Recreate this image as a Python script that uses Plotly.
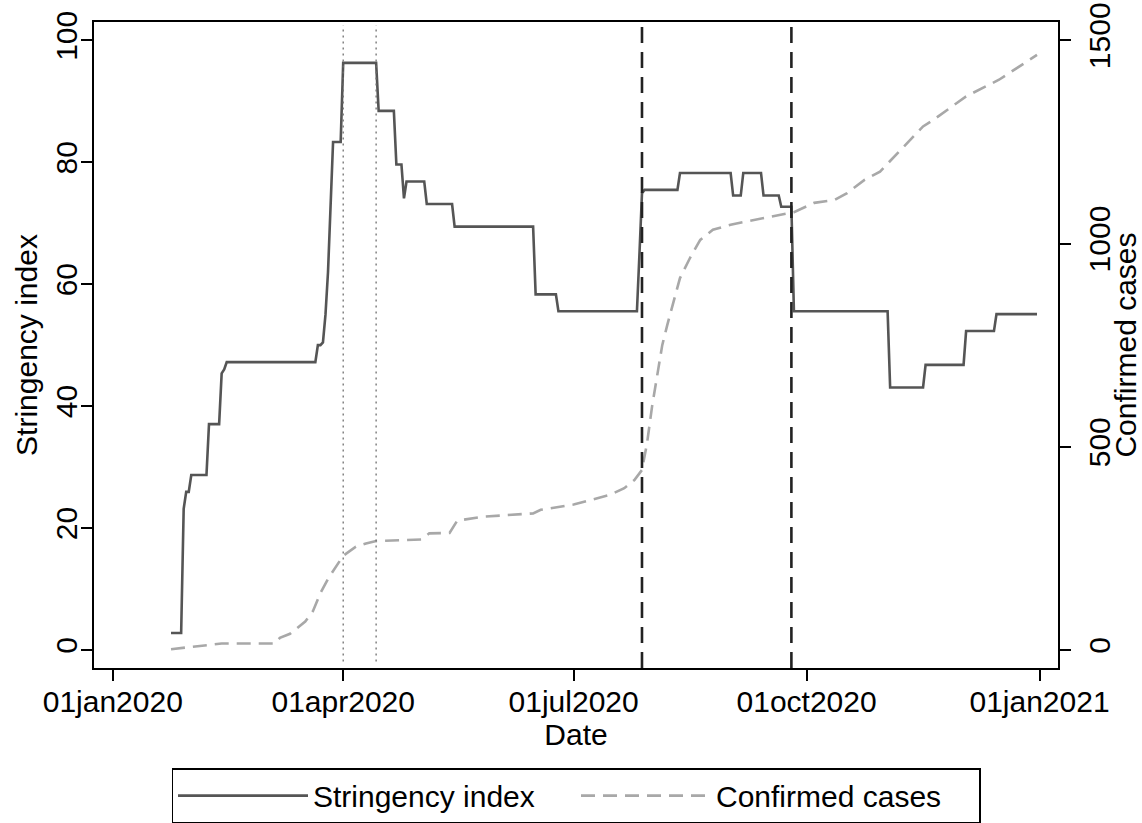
import pandas as pd
import plotly.graph_objects as go

# ---------------- data ----------------
# Stringency index: dates on which the index changed, and its new value
stringency_dates = [
    "2020-01-24", "2020-01-28", "2020-01-29", "2020-01-30", "2020-02-01",
    "2020-02-07", "2020-02-08", "2020-02-13", "2020-02-14", "2020-02-15",
    "2020-03-21", "2020-03-22", "2020-03-24", "2020-03-25", "2020-03-26",
    "2020-03-27", "2020-03-28", "2020-03-31", "2020-04-01", "2020-04-15",
    "2020-04-22", "2020-04-25", "2020-04-26", "2020-05-04", "2020-05-15",
    "2020-06-16", "2020-06-25", "2020-07-26", "2020-07-27", "2020-07-28",
    "2020-07-29", "2020-08-12", "2020-09-02", "2020-09-06", "2020-09-14",
    "2020-09-21", "2020-09-26", "2020-11-03", "2020-11-17", "2020-12-03",
    "2020-12-15", "2020-12-31",
]
stringency_values = [
    2.78, 2.78, 23.15, 25.93, 28.70,
    28.70, 37.04, 45.37, 46.00, 47.22,
    47.22, 50.00, 50.46, 55.00, 62.00,
    72.00, 83.33, 83.33, 96.30, 88.43,
    79.63, 74.07, 76.85, 73.15, 69.44,
    58.33, 55.56, 55.56, 65.00, 74.90,
    75.46, 78.24, 74.54, 78.24, 74.54,
    72.69, 55.56, 43.06, 46.76, 52.31,
    55.09, 55.09,
]

# Cumulative confirmed cases
cases_dates = [
    "2020-01-24", "2020-01-30", "2020-02-04", "2020-02-13", "2020-03-05",
    "2020-03-07", "2020-03-11", "2020-03-14", "2020-03-17", "2020-03-20",
    "2020-03-23", "2020-03-26", "2020-03-29", "2020-04-01", "2020-04-06",
    "2020-04-10", "2020-04-14", "2020-05-02", "2020-05-05", "2020-05-13",
    "2020-05-16", "2020-05-26", "2020-06-15", "2020-06-18", "2020-07-01",
    "2020-07-08", "2020-07-15", "2020-07-21", "2020-07-25", "2020-07-28",
    "2020-07-30", "2020-08-01", "2020-08-03", "2020-08-05", "2020-08-07",
    "2020-08-09", "2020-08-12", "2020-08-16", "2020-08-20", "2020-08-25",
    "2020-09-01", "2020-09-07", "2020-09-20", "2020-09-26", "2020-10-04",
    "2020-10-12", "2020-10-17", "2020-10-24", "2020-10-30", "2020-11-07",
    "2020-11-16", "2020-11-20", "2020-12-03", "2020-12-16", "2020-12-31",
]
cases_values = [
    2, 6, 10, 16, 16,
    30, 40, 55, 70, 95,
    140, 175, 205, 232, 254,
    262, 268, 272, 287, 288,
    318, 328, 336, 345, 358,
    370, 381, 398, 418, 443,
    509, 600, 680, 750, 800,
    845, 915, 965, 1009, 1034,
    1046, 1054, 1071, 1077, 1100,
    1107, 1124, 1157, 1177, 1230,
    1288, 1304, 1362, 1403, 1464,
]

dotted_event_dates = ["2020-04-01", "2020-04-14"]
dashed_event_dates = ["2020-07-28", "2020-09-25"]

x_tick_dates = ["2020-01-01", "2020-04-01", "2020-07-01", "2020-10-01", "2021-01-01"]
x_tick_labels = ["01jan2020", "01apr2020", "01jul2020", "01oct2020", "01jan2021"]
y_left_ticks = [0, 20, 40, 60, 80, 100]
y_right_ticks = [0, 500, 1000, 1500]

# expand step changes into a daily series
s = pd.Series(stringency_values, index=pd.to_datetime(stringency_dates))
s = s[~s.index.duplicated(keep="last")]
daily = pd.date_range(s.index.min(), s.index.max(), freq="D")
s_daily = s.reindex(daily).ffill()

FONT = "Liberation Sans, Arial, Helvetica, sans-serif"

fig = go.Figure()
fig.add_trace(go.Scatter(
    x=s_daily.index, y=s_daily.values, mode="lines", name="Stringency index",
    line=dict(color="#555555", width=2.6), yaxis="y",
))
fig.add_trace(go.Scatter(
    x=pd.to_datetime(cases_dates), y=cases_values, mode="lines", name="Confirmed cases",
    line=dict(color="#a8a8a8", width=2.6, dash="14px,8px"), yaxis="y2",
))

for d in dotted_event_dates:
    fig.add_shape(type="line", xref="x", yref="paper", x0=d, x1=d, y0=0.01, y1=0.995,
                  line=dict(color="#707070", width=1.3, dash="2px,4px"), layer="above")
for d in dashed_event_dates:
    fig.add_shape(type="line", xref="x", yref="paper", x0=d, x1=d, y0=0, y1=1,
                  line=dict(color="#222222", width=2.6, dash="16px,9px"), layer="above")

axis_common = dict(showgrid=False, zeroline=False, showline=True, linecolor="black",
                   linewidth=2, ticks="outside", ticklen=11, tickwidth=1.5, tickcolor="black",
                   tickfont=dict(family=FONT, size=30, color="black"))

fig.update_layout(
    width=1142, height=823,
    margin=dict(l=94, r=84, t=22, b=155, autoexpand=False),
    paper_bgcolor="white", plot_bgcolor="white",
    font=dict(family=FONT, size=30, color="black"),
    xaxis=dict(
        **axis_common, mirror=True,
        range=["2019-12-24 14:00", "2021-01-08 07:00"],
        tickvals=x_tick_dates, ticktext=x_tick_labels, ticklabelstandoff=-5,
        title=dict(text="Date", font=dict(family=FONT, size=30), standoff=0),
    ),
    yaxis=dict(
        **axis_common, mirror=True,
        range=[-2.95, 103.0], tickvals=y_left_ticks, tickangle=-90, ticklabelstandoff=-8,
        title=dict(text="Stringency index", font=dict(family=FONT, size=30), standoff=4),
    ),
    yaxis2=dict(
        **axis_common, overlaying="y", side="right",
        range=[-2.95 * 15, 103.0 * 15], tickvals=y_right_ticks, tickangle=-90,
        ticklabelstandoff=3,
        title=dict(text="Confirmed cases", font=dict(family=FONT, size=30), standoff=4),
    ),
    legend=dict(
        orientation="h", x=0.5, xanchor="center", y=-0.155, yanchor="top",
        bordercolor="black", borderwidth=1.5, bgcolor="white",
        font=dict(family=FONT, size=30, color="black"),
        itemwidth=130, entrywidth=258, traceorder="normal",
    ),
    showlegend=True,
)

fig.write_html("out.html")
